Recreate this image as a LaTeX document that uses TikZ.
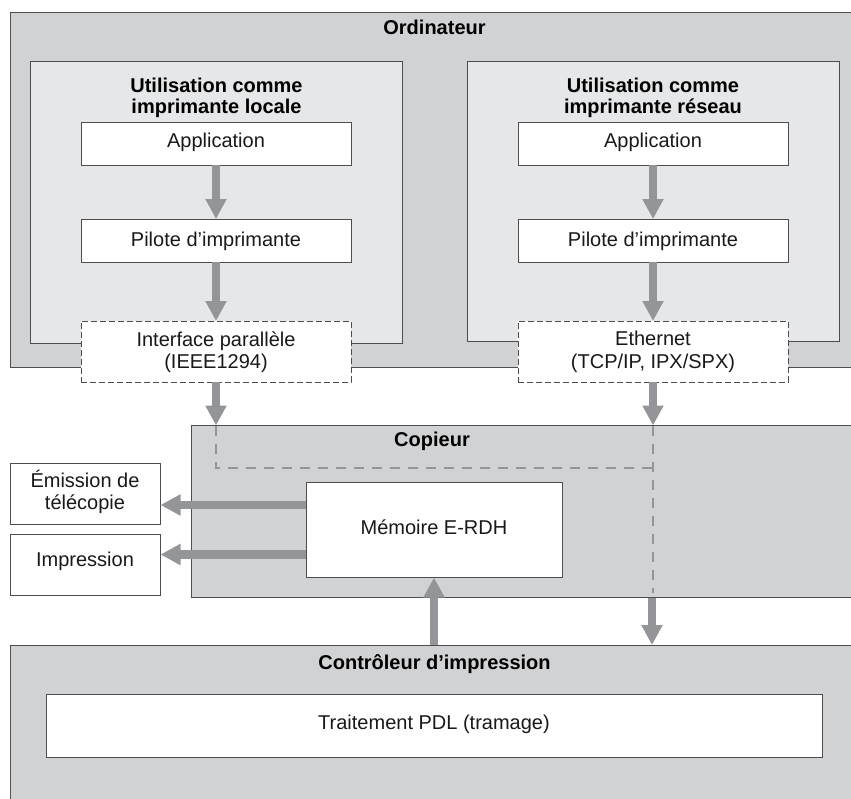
\documentclass[tikz,border=0pt]{standalone}
\usepackage{fontspec}
\setmainfont{Liberation Sans}
\usetikzlibrary{arrows.meta}
\definecolor{outerg}{HTML}{D1D2D4}
\definecolor{innerg}{HTML}{E6E7E8}
\definecolor{arrowg}{HTML}{939598}
\definecolor{edgeg}{HTML}{4D4D4F}
\tikzset{
  panel/.style={draw=edgeg,line width=0.9pt,inner sep=0pt,outer sep=0pt,anchor=north west},
  outerbox/.style={panel,fill=outerg},
  innerbox/.style={panel,fill=innerg},
  whitebox/.style={panel,fill=white},
  dashbox/.style={panel,fill=white,draw=edgeg,line width=0.9pt,dash pattern=on 6pt off 3pt},
  txt/.style={inner sep=0pt,font=\fontsize{20}{22.5}\selectfont,align=center,text=black!90},
  ttl/.style={inner sep=0pt,font=\fontsize{20}{21.5}\selectfont\bfseries,align=center,text=black},
  bigarrow/.style={draw=arrowg,line width=8.8pt,-{Triangle[width=20pt,length=20pt]}},
  route/.style={draw=arrowg,line width=2pt,dash pattern=on 10pt off 8pt}
}
\begin{document}
\begin{tikzpicture}[x=1pt,y=-1pt]
\useasboundingbox (0,0) rectangle (851,798);
% large panels
\node[outerbox,minimum width=846pt,minimum height=355pt] (ordi) at (10.5,12.5) {};
\node[outerbox,minimum width=665pt,minimum height=172pt] (copieur) at (191.5,425.5) {};
\node[outerbox,minimum width=846pt,minimum height=160pt] (ctrl) at (10.5,645) {};
% inner panels
\node[innerbox,minimum width=372pt,minimum height=282pt] (local) at (30.5,61) {};
\node[innerbox,minimum width=372pt,minimum height=280pt] (reseau) at (467,61) {};
% boxes
\node[whitebox,minimum width=270pt,minimum height=43pt] (app1) at (81,122) {};
\node[whitebox,minimum width=270pt,minimum height=43pt] (pil1) at (81,219) {};
\node[dashbox,minimum width=270pt,minimum height=61pt] (if1) at (81,321) {};
\node[whitebox,minimum width=270pt,minimum height=43pt] (app2) at (518,122) {};
\node[whitebox,minimum width=270pt,minimum height=43pt] (pil2) at (518,219) {};
\node[dashbox,minimum width=270pt,minimum height=61pt] (if2) at (518,321) {};
\node[whitebox,minimum width=150pt,minimum height=61pt] (fax) at (10.5,463) {};
\node[whitebox,minimum width=150pt,minimum height=61pt] (imp) at (10.5,534.5) {};
\node[whitebox,minimum width=256pt,minimum height=95pt] (mem) at (306,482.5) {};
\node[whitebox,minimum width=776pt,minimum height=63pt] (pdl) at (46,694) {};
% routes in the copier
\coordinate (r1) at (if1.south |- 0,468);
\coordinate (r2) at (if2.south |- 0,468);
\coordinate (r3) at (if2.south |- 0,593);
\draw[route] (if1.south |- copieur.north) -- (r1) -- (r2);
\draw[route] (if2.south |- copieur.north) -- (r3);
% arrows
\draw[bigarrow] (app1) -- (pil1);
\draw[bigarrow] (pil1) -- (if1);
\draw[bigarrow] (if1) -- (if1.south |- copieur.north);
\draw[bigarrow] (app2) -- (pil2);
\draw[bigarrow] (pil2) -- (if2);
\draw[bigarrow] (if2) -- (if2.south |- copieur.north);
\draw[bigarrow] (mem.west |- 0,505) -- (fax.east |- 0,505);
\draw[bigarrow] (mem.west |- 0,554.5) -- (imp.east |- 0,554.5);
\draw[bigarrow] (mem.south |- ctrl.north) -- (mem.south);
\draw[bigarrow] ([xshift=-1pt]if2.south |- copieur.south) -- ([xshift=-1pt]if2.south |- ctrl.north);
% titles
\node[ttl] (t1) at (434.5,27) {Ordinateur};
\node[ttl] (t2) at (216.5,98) {Utilisation comme\\imprimante locale};
\node[ttl] (t3) at (653,98) {Utilisation comme\\imprimante réseau};
\node[ttl] (t4) at (432,441) {Copieur};
\node[ttl] (t5) at (434.5,664) {Contrôleur d’impression};
% texts
\node[txt] (a1) at (216,142) {Application};
\node[txt] (a2) at (653,142) {Application};
\node[txt] (b1) at (216,241) {Pilote d’imprimante};
\node[txt] (b2) at (653,241) {Pilote d’imprimante};
\node[txt] (d1) at (216,352) {Interface parallèle\\(IEEE1294)};
\node[txt] (d2) at (653,352) {Ethernet\\(TCP/IP, IPX/SPX)};
\node[txt] (f1) at (85,492) {Émission de\\télécopie};
\node[txt] (f2) at (85,561) {Impression};
\node[txt] (m1) at (434,527.5) {Mémoire E-RDH};
\node[txt] (p1) at (434,724) {Traitement PDL (tramage)};
\end{tikzpicture}
\end{document}
